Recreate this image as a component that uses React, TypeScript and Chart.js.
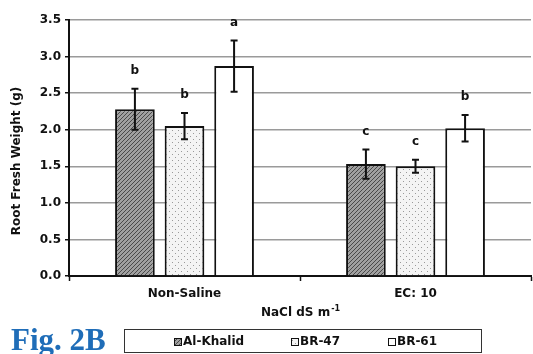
import React, { useEffect, useRef } from "react";
import { Chart, registerables } from "chart.js";

Chart.register(...registerables);

const categories = ["Non-Saline", "EC: 10"];
const varieties = ["Al-Khalid", "BR-47", "BR-61"];
const alKhalid = [2.28, 1.53];
const br47 = [2.05, 1.5];
const br61 = [2.87, 2.02];
const alKhalidErr = [0.28, 0.2];
const br47Err = [0.18, 0.09];
const br61Err = [0.35, 0.18];
const alKhalidLetters = ["b", "c"];
const br47Letters = ["b", "c"];
const br61Letters = ["a", "b"];

const FONT = "'DejaVu Sans', Arial, sans-serif";

function hatchPattern(): CanvasPattern | string {
  const c = document.createElement("canvas");
  c.width = 4;
  c.height = 4;
  const g = c.getContext("2d");
  if (!g) return "#888";
  g.fillStyle = "#a0a0a0";
  g.fillRect(0, 0, 4, 4);
  g.strokeStyle = "#4a4a4a";
  g.lineWidth = 1;
  g.beginPath();
  g.moveTo(0, 4);
  g.lineTo(4, 0);
  g.moveTo(-1, 1);
  g.lineTo(1, -1);
  g.moveTo(3, 5);
  g.lineTo(5, 3);
  g.stroke();
  const p = g.createPattern(c, "repeat");
  return p || "#888";
}

function dotPattern(): CanvasPattern | string {
  const c = document.createElement("canvas");
  c.width = 6;
  c.height = 6;
  const g = c.getContext("2d");
  if (!g) return "#eee";
  g.fillStyle = "#f4f4f4";
  g.fillRect(0, 0, 6, 6);
  g.fillStyle = "#9a9a9a";
  g.fillRect(1, 1, 1, 1);
  g.fillRect(4, 4, 1, 1);
  const p = g.createPattern(c, "repeat");
  return p || "#eee";
}

const errs = [alKhalidErr, br47Err, br61Err];
const letters = [alKhalidLetters, br47Letters, br61Letters];

const annotations = {
  id: "annotations",
  afterDatasetsDraw(chart: any) {
    const ctx = chart.ctx;
    const y = chart.scales.y;
    ctx.save();
    chart.data.datasets.forEach((ds: any, di: number) => {
      const meta = chart.getDatasetMeta(di);
      meta.data.forEach((bar: any, i: number) => {
        const v = ds.data[i];
        const e = errs[di][i];
        const x = bar.x;
        const yt = y.getPixelForValue(v + e);
        const yb = y.getPixelForValue(v - e);
        ctx.strokeStyle = "#111";
        ctx.lineWidth = 2;
        ctx.beginPath();
        ctx.moveTo(x, yt);
        ctx.lineTo(x, yb);
        ctx.moveTo(x - 3.5, yt);
        ctx.lineTo(x + 3.5, yt);
        ctx.moveTo(x - 3.5, yb);
        ctx.lineTo(x + 3.5, yb);
        ctx.stroke();
        ctx.fillStyle = "#111";
        ctx.font = `bold 12px ${FONT}`;
        ctx.textAlign = "center";
        ctx.textBaseline = "middle";
        ctx.fillText(letters[di][i], x, yt - 18);
      });
    });
    ctx.restore();
  },
  afterDraw(chart: any) {
    const ctx = chart.ctx;
    const area = chart.chartArea;
    ctx.save();
    // y-axis title
    ctx.fillStyle = "#111";
    ctx.font = `bold 12px ${FONT}`;
    ctx.textAlign = "center";
    ctx.textBaseline = "middle";
    ctx.translate(17, 161);
    ctx.rotate(-Math.PI / 2);
    ctx.fillText("Root Fresh Weight (g)", 0, 0);
    ctx.restore();

    // x-axis title with superscript
    ctx.save();
    ctx.fillStyle = "#111";
    ctx.font = `bold 12px ${FONT}`;
    ctx.textBaseline = "middle";
    const main = "NaCl dS m";
    const sup = "-1";
    const wMain = ctx.measureText(main).width;
    ctx.font = `bold 8px ${FONT}`;
    const wSup = ctx.measureText(sup).width;
    const cx = (area.left + area.right) / 2;
    const x0 = cx - (wMain + wSup) / 2;
    ctx.font = `bold 12px ${FONT}`;
    ctx.textAlign = "left";
    ctx.fillText(main, x0, 313);
    ctx.font = `bold 8px ${FONT}`;
    ctx.fillText(sup, x0 + wMain + 1, 309);
    ctx.restore();

    // legend box
    ctx.save();
    ctx.strokeStyle = "#333";
    ctx.lineWidth = 1;
    ctx.strokeRect(124.5, 329.5, 357, 23);
    const items = [
      { x: 174, label: varieties[0], ds: 0 },
      { x: 291, label: varieties[1], ds: 1 },
      { x: 388, label: varieties[2], ds: 2 },
    ];
    items.forEach((it) => {
      const ds = chart.data.datasets[it.ds];
      ctx.fillStyle = ds.backgroundColor;
      ctx.fillRect(it.x, 338, 7, 7);
      ctx.strokeStyle = "#111";
      ctx.lineWidth = 1;
      ctx.strokeRect(it.x + 0.5, 338.5, 7, 7);
      ctx.fillStyle = "#111";
      ctx.font = `bold 12px ${FONT}`;
      ctx.textAlign = "left";
      ctx.textBaseline = "middle";
      ctx.fillText(it.label, it.x + 9, 342);
    });
    ctx.restore();

    // figure label
    ctx.save();
    ctx.fillStyle = "#1f6db8";
    ctx.font = "bold 31px 'Liberation Serif', 'Times New Roman', serif";
    ctx.textAlign = "left";
    ctx.textBaseline = "alphabetic";
    ctx.fillText("Fig. 2B", 11, 350);
    ctx.restore();
  },
};

export default function App() {
  const ref = useRef<HTMLCanvasElement | null>(null);

  useEffect(() => {
    if (!ref.current) return;
    const series = [alKhalid, br47, br61];
    const fills = [hatchPattern(), dotPattern(), "#ffffff"];
    const chart = new Chart(ref.current, {
      type: "bar",
      data: {
        labels: categories,
        datasets: varieties.map((name, i) => ({
          label: name,
          data: series[i],
          backgroundColor: fills[i] as any,
          borderColor: "#111",
          borderWidth: 2,
          categoryPercentage: 0.644,
          barPercentage: 0.8,
        })),
      },
      options: {
        animation: false,
        responsive: false,
        maintainAspectRatio: false,
        events: [],
        layout: { padding: { top: 20, right: 2, left: 0, bottom: 0 } },
        plugins: {
          legend: { display: false },
          tooltip: { enabled: false },
          title: { display: false },
        },
        scales: {
          x: {
            offset: true,
            afterFit: (s: any) => {
              s.height = 78;
            },
            grid: {
              display: true,
              offset: true,
              drawOnChartArea: false,
              drawTicks: true,
              tickLength: 5,
              tickColor: "#111",
              tickWidth: 1.5,
            },
            border: { display: true, color: "#111", width: 2 },
            ticks: {
              color: "#111",
              font: { family: FONT, size: 12, weight: "bold" },
              padding: 6,
            },
          },
          y: {
            min: 0,
            max: 3.5,
            afterFit: (s: any) => {
              s.width = 69;
            },
            ticks: {
              stepSize: 0.5,
              color: "#111",
              font: { family: FONT, size: 12, weight: "bold" },
              padding: 4,
              callback: (v: any) => Number(v).toFixed(1),
            },
            grid: {
              color: "#9a9a9a",
              lineWidth: 1.5,
              drawTicks: true,
              tickLength: 4,
              tickColor: "#111",
              tickWidth: 1.5,
            },
            border: { display: true, color: "#111", width: 2 },
          },
        },
      },
      plugins: [annotations],
    });
    return () => chart.destroy();
  }, []);

  return (
    <div style={{ position: "fixed", left: 0, top: 0, width: 533, height: 354, background: "#fff" }}>
      <canvas ref={ref} width={533} height={354} style={{ display: "block" }} />
    </div>
  );
}
